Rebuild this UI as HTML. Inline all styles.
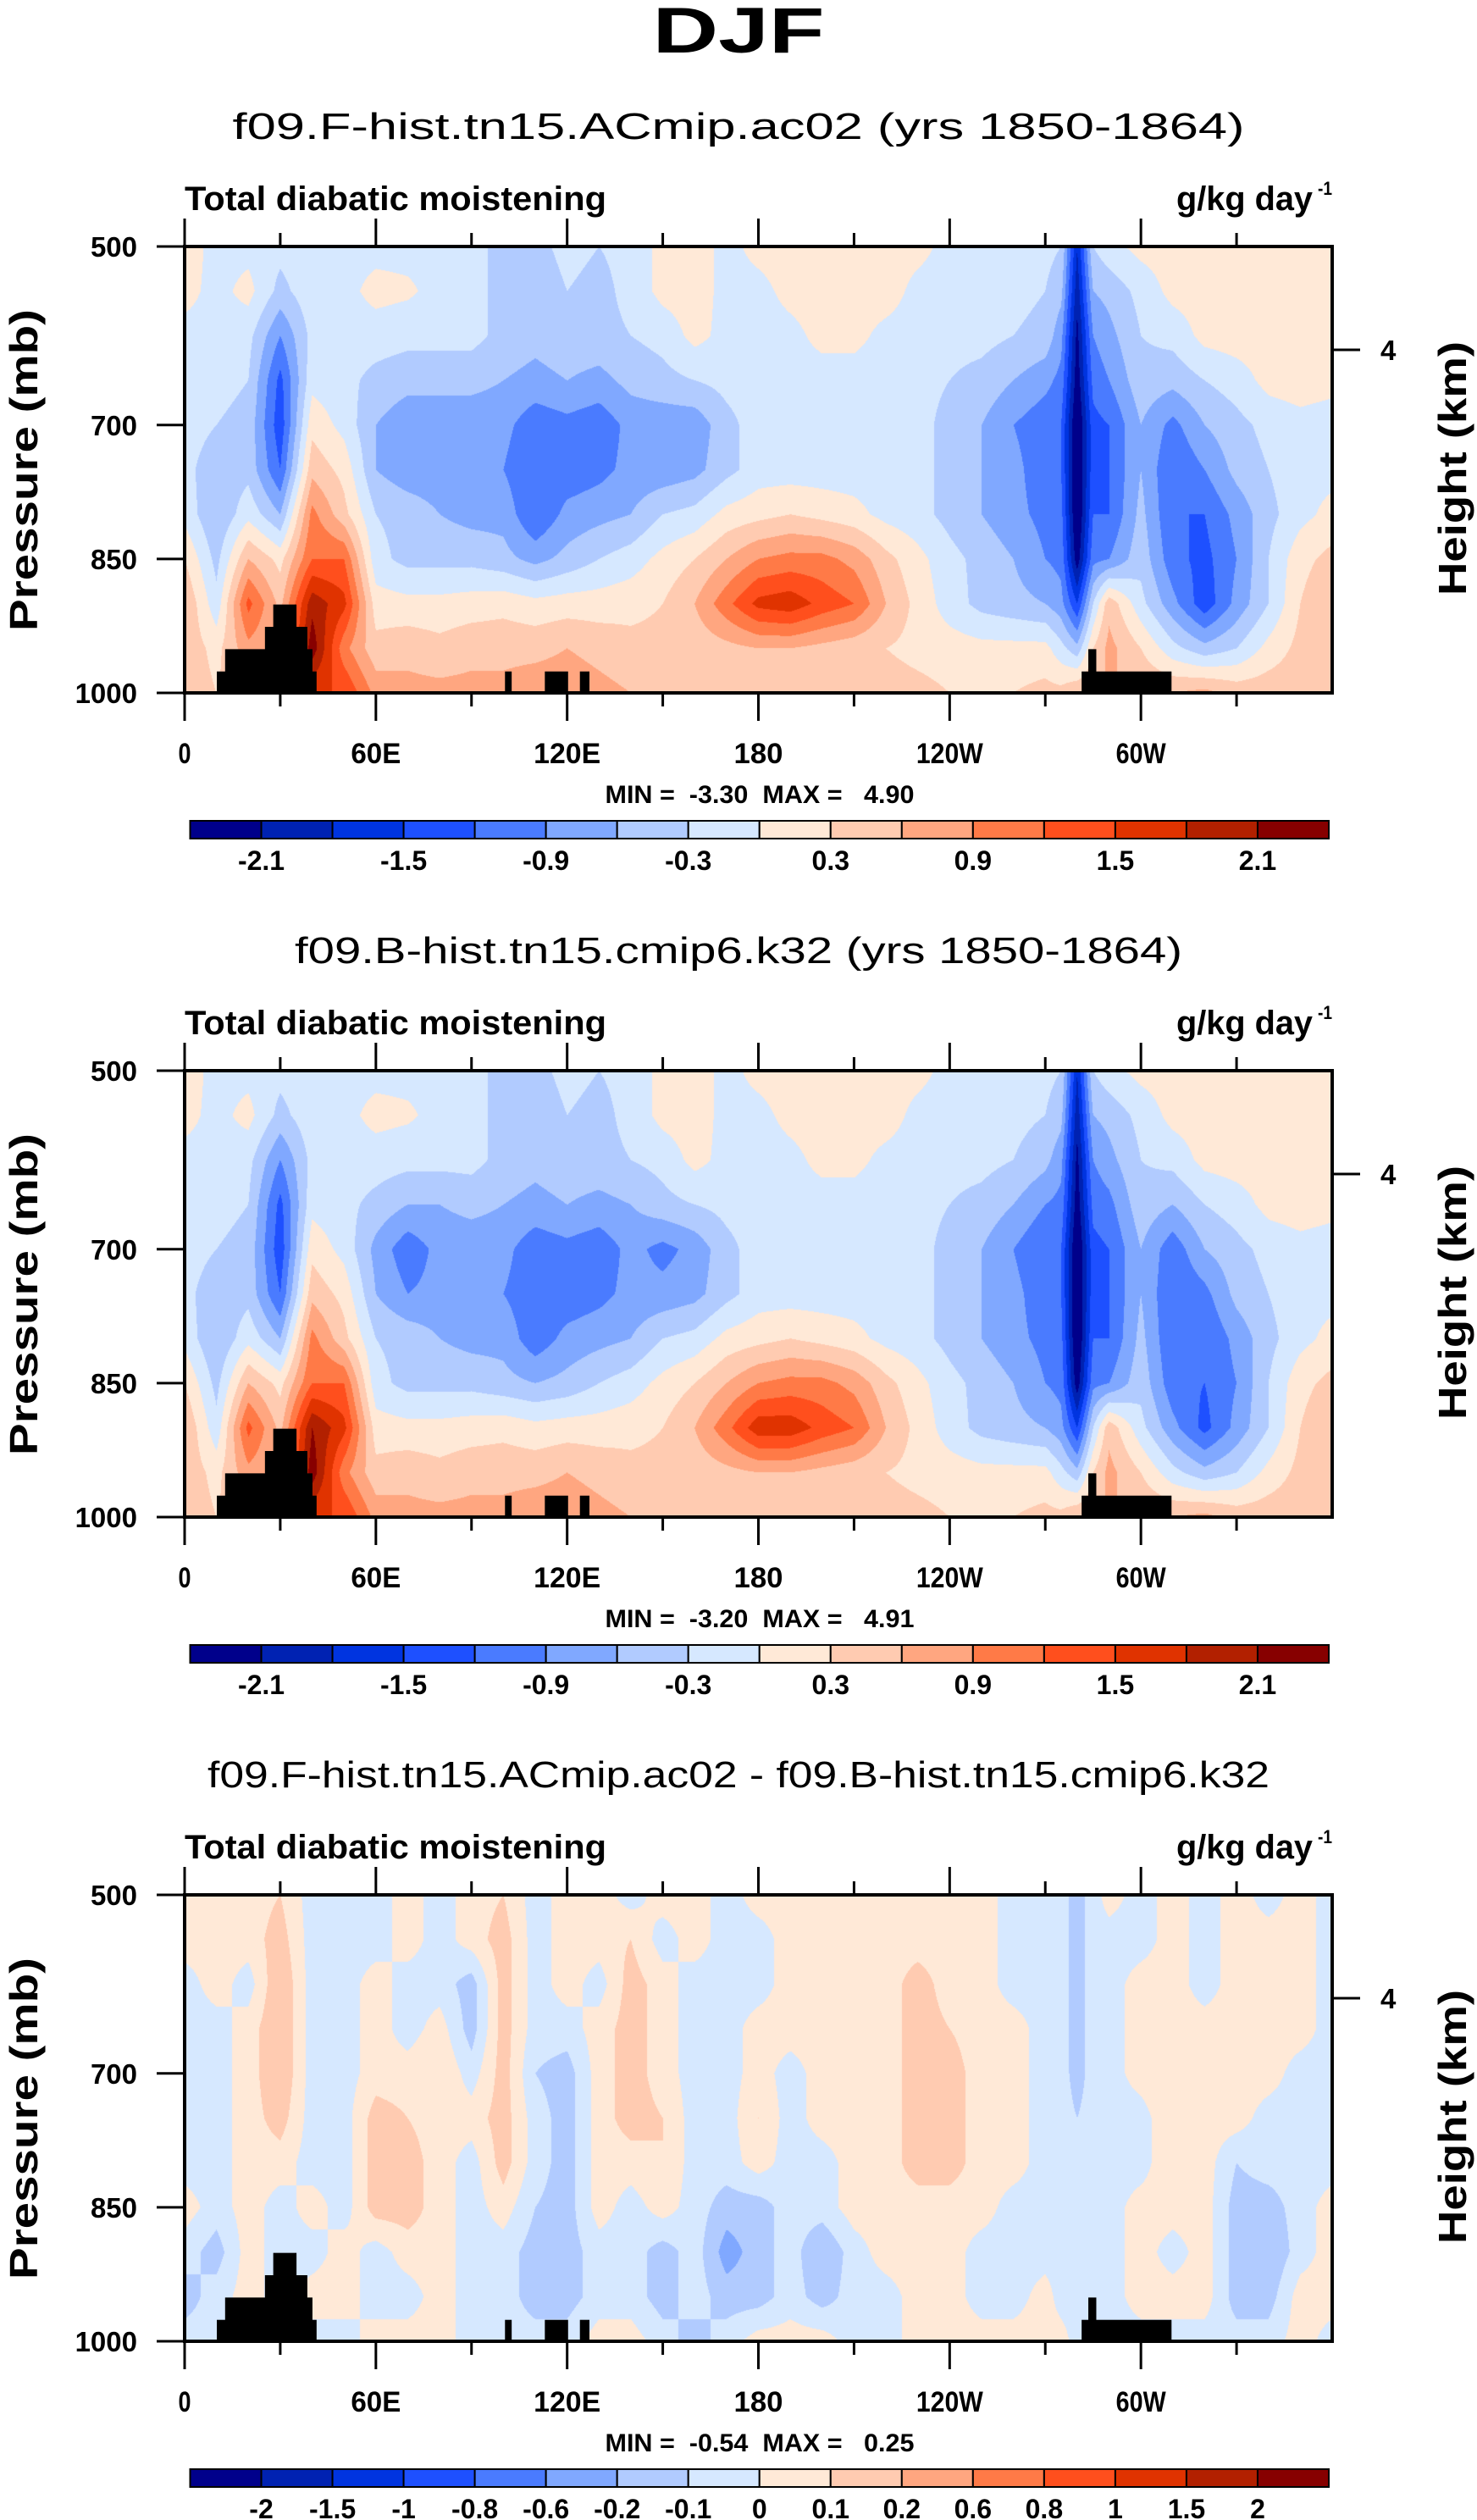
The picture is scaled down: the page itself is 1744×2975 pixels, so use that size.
<!DOCTYPE html>
<html><head><meta charset="utf-8"><title>DJF Total diabatic moistening</title>
<style>
html,body{margin:0;padding:0;background:#fff;}
#wrap{position:relative;width:1744px;height:2975px;overflow:hidden;background:#fff;}
canvas{position:absolute;}
#svg{position:absolute;left:0;top:0;}
text{font-family:"Liberation Sans",sans-serif;fill:#000;}
</style></head>
<body>
<div id="wrap">
<canvas id="f0" width="1355" height="527" style="left:218px;top:291px"></canvas>
<canvas id="f1" width="1355" height="527" style="left:218px;top:1264px"></canvas>
<canvas id="f2" width="1355" height="527" style="left:218px;top:2237px"></canvas>
<svg id="svg" width="1744" height="2975" xmlns="http://www.w3.org/2000/svg">
<text x="872" y="62" text-anchor="middle" font-size="76" font-weight="bold" textLength="203" lengthAdjust="spacingAndGlyphs">DJF</text>
</svg>
</div>
<script>
const baseLons = [0,10,20,30,40,50,60,70,80,90,100,110,120,130,140,150,160,170,180,190,200,210,220,230,240,250,260,270,280,290,300,310,320,330,340,350,360];
const extraLons = [275,285];
const pressures = [500,550,600,650,700,750,800,850,900,950,1000];
const panel1Values = [
[.15,-.1,-.1,-.2,-.1,-.1,-.1,-.1,-.1,-.2,-.4,-.4,-.2,-.3,-.2,.1,.15,-.1,.1,.15,.15,.15,.15,.1,-.1,-.15,-.15,-.2,-1.8,-.1,.1,.15,.15,.15,.15,.15,.15],
[.1,-.1,.1,-.4,-.1,-.1,.1,.05,-.1,-.2,-.4,-.5,-.3,-.4,-.2,.1,.15,-.1,-.1,.1,.15,.15,.15,-.1,-.15,-.15,-.2,-.3,-2.0,-.5,-.2,.1,.15,.15,.15,.15,.15],
[-.1,-.1,-.2,-.9,-.2,-.15,-.15,-.2,-.2,-.2,-.4,-.5,-.4,-.4,-.3,-.2,.1,-.1,-.15,-.1,.1,.1,-.1,-.15,-.2,-.2,-.3,-.4,-2.2,-.7,-.3,-.2,.1,.15,.15,.15,.1],
[-.15,-.2,-.3,-1.3,-.1,-.2,-.4,-.5,-.5,-.5,-.6,-.7,-.6,-.7,-.5,-.4,-.3,-.2,-.15,-.15,-.15,-.15,-.2,-.2,-.3,-.4,-.6,-.8,-2.3,-.9,-.4,-.5,-.3,-.15,.1,.15,.1],
[-.15,-.3,-.4,-1.4,.2,-.1,-.6,-.8,-.8,-.8,-.8,-1.1,-1.0,-1.1,-.8,-.8,-.8,-.4,-.15,-.15,-.15,-.15,-.15,-.2,-.4,-.6,-.9,-1.1,-2.5,-1.2,-.6,-1.0,-.6,-.4,-.2,-.1,-.15],
[-.2,-.5,-.4,-1.2,.5,.2,-.6,-.8,-.8,-.8,-.9,-1.2,-1.1,-1.0,-.8,-.8,-.7,-.4,-.15,-.15,-.15,-.15,-.15,-.2,-.4,-.6,-.8,-1.1,-2.5,-1.2,-.6,-1.2,-.9,-.5,-.3,-.1,-.1],
[-.1,-.6,-.1,-.6,1.0,.4,-.3,-.4,-.6,-.7,-.7,-1.2,-.8,-.7,-.6,-.3,-.2,.1,.2,.3,.2,.1,-.1,-.2,-.4,-.6,-.8,-1.0,-2.5,-1.2,-.5,-1.2,-1.2,-.8,-.4,-.1,.1],
[.3,-.4,.6,.2,1.2,1.2,-.2,-.4,-.4,-.4,-.5,-.7,-.5,-.3,-.15,.1,.3,.6,.9,1.0,1.0,.8,.4,.1,-.2,-.4,-.6,-.9,-2.3,-.9,-.4,-1.1,-1.3,-.9,-.3,.2,.4],
[.6,-.2,1.3,.5,2.0,1.6,.15,.1,.1,.15,.2,.1,.15,.15,.2,.3,.6,1.1,1.6,1.7,1.4,1.2,.6,.2,-.15,-.4,-.5,-.6,-1.5,.5,-.2,-.8,-1.4,-.8,-.3,.3,.6],
[.5,.2,.8,.6,2.3,1.0,.4,.5,.4,.5,.5,.5,.6,.5,.4,.4,.4,.5,.6,.6,.5,.4,.3,.2,.15,.1,.1,.1,-.5,.7,.3,-.2,-.5,-.3,.1,.4,.5],
[.5,.3,.5,.5,1.5,1.5,.8,.7,.7,.7,.7,.8,.8,.7,.6,.5,.45,.45,.45,.45,.45,.45,.45,.4,.3,.3,.3,.4,.6,.6,.6,.6,.7,.5,.5,.5,.5]
];
const panel1Extra = [[-.3,-.3],[-.5,-.6],[-.8,-.9],[-1.0,-1.1],[-1.2,-1.3],[-1.2,-1.3],[-1.1,-1.2],[-1.0,-1.0],[-.8,-.3],[-.2,.3],[.4,.6]];
const panel2Values = [
[.15,-.1,-.1,-.2,-.1,-.1,-.1,-.1,-.1,-.2,-.4,-.4,-.2,-.3,-.2,.1,.15,-.1,.1,.15,.15,.15,.15,.1,-.1,-.15,-.15,-.2,-1.8,-.1,.1,.15,.15,.15,.15,.2,.15],
[.1,-.1,.1,-.4,-.1,-.1,.1,.05,-.1,-.2,-.4,-.5,-.3,-.4,-.2,.1,.15,-.1,-.1,.1,.15,.15,.15,-.1,-.15,-.15,-.2,-.3,-2.0,-.5,-.2,.1,.15,.15,.15,.15,.15],
[-.1,-.1,-.2,-.9,-.2,-.15,-.15,-.2,-.2,-.2,-.4,-.5,-.4,-.4,-.3,-.2,.1,-.1,-.15,-.1,.1,.1,-.1,-.15,-.2,-.2,-.3,-.5,-2.2,-.7,-.3,-.2,.1,.15,.15,.15,.1],
[-.15,-.2,-.3,-1.3,-.1,-.2,-.4,-.6,-.6,-.5,-.6,-.7,-.6,-.7,-.6,-.4,-.3,-.2,-.15,-.15,-.15,-.15,-.2,-.2,-.3,-.4,-.6,-.9,-2.3,-1.0,-.4,-.6,-.3,-.15,.1,.15,.1],
[-.15,-.3,-.4,-1.4,.2,-.1,-.7,-1.1,-.8,-.8,-.8,-1.1,-1.0,-1.1,-.8,-1.0,-.8,-.4,-.15,-.15,-.15,-.15,-.15,-.2,-.4,-.6,-.9,-1.2,-2.5,-1.2,-.6,-1.1,-.6,-.4,-.2,-.1,-.15],
[-.2,-.5,-.4,-1.2,.5,.2,-.6,-.9,-.8,-.8,-.9,-1.1,-1.1,-1.0,-.8,-.8,-.7,-.4,-.15,-.15,-.15,-.15,-.15,-.2,-.4,-.6,-.8,-1.1,-2.5,-1.2,-.6,-1.2,-1.0,-.5,-.3,-.1,-.1],
[-.1,-.6,-.1,-.6,1.0,.4,-.3,-.4,-.6,-.7,-.7,-1.1,-.8,-.7,-.6,-.3,-.2,.1,.2,.3,.2,.1,-.1,-.2,-.4,-.6,-.8,-1.0,-2.5,-1.2,-.5,-1.2,-1.2,-.8,-.4,-.1,.1],
[.3,-.4,.6,.2,1.2,1.2,-.2,-.4,-.4,-.4,-.5,-.6,-.5,-.3,-.15,.1,.3,.6,.9,1.0,1.0,.8,.4,.1,-.2,-.4,-.6,-.9,-2.3,-.9,-.4,-1.1,-1.2,-.9,-.3,.2,.4],
[.6,-.2,1.3,.5,2.1,1.6,.15,.1,.1,.15,.2,.1,.15,.15,.2,.3,.6,1.1,1.7,1.7,1.4,1.2,.6,.2,-.15,-.4,-.5,-.6,-1.5,.5,-.2,-.8,-1.3,-.8,-.3,.3,.6],
[.5,.2,.8,.6,2.3,1.0,.4,.5,.4,.5,.5,.5,.6,.5,.4,.4,.4,.5,.6,.6,.5,.4,.3,.2,.15,.1,.1,.1,-.5,.7,.3,-.2,-.5,-.3,.1,.4,.5],
[.5,.3,.5,.5,1.5,1.5,.8,.7,.7,.7,.7,.8,.8,.7,.6,.5,.45,.45,.45,.45,.45,.45,.45,.4,.3,.3,.3,.4,.6,.6,.6,.6,.7,.5,.5,.5,.5]
];
const panel2Extra = [[-.3,-.3],[-.5,-.6],[-.8,-.9],[-1.0,-1.1],[-1.2,-1.3],[-1.2,-1.3],[-1.1,-1.2],[-1.0,-1.0],[-.8,-.3],[-.2,.3],[.4,.6]];
const panel3Values = [
[.05,.05,.05,.1,-.05,-.05,-.05,.05,-.05,.05,.1,-.05,.05,.05,-.05,.05,.05,-.05,.05,.05,.05,.05,.05,.05,.05,.05,-.05,-.05,-.15,.05,-.05,.05,-.05,.05,-.05,.05,-.05],
[.05,.05,.05,.15,-.05,-.05,-.05,.05,-.05,.05,.15,-.05,.05,.05,.1,-.05,.05,-.05,-.05,.05,.05,.05,.05,.05,.05,.05,-.05,-.05,-.15,-.05,-.05,.05,-.05,.05,.05,.05,-.05],
[-.05,.05,-.05,.2,-.05,-.05,.05,-.05,-.05,-.15,.15,-.05,.05,-.05,.15,.05,-.05,-.05,-.05,.05,.05,.05,.05,.15,.05,.05,-.05,-.05,-.15,-.05,.05,.05,-.05,.05,.05,.05,-.05],
[-.05,-.05,.05,.2,-.05,-.05,.05,-.05,.05,-.15,.15,-.05,-.05,.05,.15,.05,-.05,-.05,.05,.05,.05,.05,.05,.15,.1,.05,.05,-.05,-.15,-.05,.05,.05,.05,.05,.05,.05,-.05],
[-.05,-.05,.05,.2,-.05,-.05,.05,.05,.1,-.05,.15,-.1,-.15,.05,.15,.05,-.05,-.05,.05,-.05,.05,.05,.05,.15,.15,.05,.05,-.05,-.15,-.05,.05,.1,.05,.05,.05,-.05,-.05],
[-.05,-.05,.05,.15,-.05,-.05,.15,.1,.05,.05,.15,-.05,-.15,.05,.15,.1,-.05,-.05,.1,-.05,.05,.05,.05,.15,.15,.05,.05,-.05,-.1,-.05,-.05,.1,.05,.05,-.05,-.05,-.05],
[-.05,-.05,.05,.05,-.05,-.05,.15,.15,.05,-.05,.15,-.05,-.15,.05,.05,.1,-.05,-.05,.05,-.05,-.05,.05,.05,.15,.15,.05,.05,-.05,-.05,-.05,-.05,.1,.05,-.1,-.05,-.05,-.05],
[.05,-.05,.05,-.05,.05,-.05,.15,.15,.05,-.05,.05,-.1,-.15,.05,-.05,.05,-.05,-.15,-.15,-.05,-.05,.05,.05,.05,.05,.05,-.05,-.05,-.05,-.05,.05,.05,.05,-.15,-.15,-.05,.05],
[-.05,-.15,.05,-.05,-.05,.05,-.05,.05,.05,-.05,-.05,-.15,-.15,-.05,-.05,-.15,-.05,-.25,-.15,-.05,-.2,-.05,.05,.05,.05,-.05,-.05,-.05,-.05,-.05,.05,-.05,.05,-.15,-.2,-.05,.05],
[-.15,-.05,.05,-.05,.05,.05,-.05,-.05,.05,-.05,-.05,-.15,-.15,-.05,-.05,-.15,-.05,-.15,-.15,-.05,-.15,-.05,-.05,.05,.05,-.05,-.05,.05,-.05,-.05,.05,.05,.05,-.15,-.15,.05,.05],
[-.05,-.05,-.05,-.05,-.05,-.05,.05,.05,.05,-.05,-.05,-.05,-.05,.05,.05,-.05,-.15,-.05,.05,.05,.05,-.05,-.05,.05,.05,.05,.05,.05,-.05,-.05,-.05,-.05,-.05,-.05,-.05,.05,-.05]
];
const panel3Extra = [[-.05,-.05],[-.05,-.05],[-.05,-.05],[-.05,-.05],[-.05,-.05],[-.05,-.05],[-.05,-.05],[-.05,-.05],[-.05,-.05],[-.05,-.05],[.05,-.05]];
const levels1 = [-2.1,-1.8,-1.5,-1.2,-0.9,-0.6,-0.3,0,0.3,0.6,0.9,1.2,1.5,1.8,2.1];
const levels3 = [-2,-1.5,-1,-0.8,-0.6,-0.2,-0.1,0,0.1,0.2,0.6,0.8,1,1.5,2];
const cbLabels1 = ['-2.1','-1.5','-0.9','-0.3','0.3','0.9','1.5','2.1'];
const cbLabels3 = ['-2','-1.5','-1','-0.8','-0.6','-0.2','-0.1','0','0.1','0.2','0.6','0.8','1','1.5','2'];
const palette = ['#00008b','#0022b2','#0034e0','#1e50ff','#4a7bff','#80a8ff','#b1cbff','#d6e8ff','#ffe9d7','#ffcbb1','#ffa680','#ff7a47','#ff4f1d','#e03300','#b22000','#870000'];
const topoLonStart = [10.1,12.7,25.2,27.8,100.5,113,124,281.4,283.5];
const topoLonEnd = [41.4,40.1,38.5,35.1,102.6,120.3,127,309.6,286];
const topoTop = [976,951,926,901,976,976,976,976,951];
const xTickLons = [0,60,120,180,240,300];
const xTickLabels = ['0','60E','120E','180','120W','60W'];
const xMinorLons = [30,90,150,210,270,330];
const yTickValues = [500,700,850,1000];
const yTickLabels = ['500','700','850','1000'];
const subtitles = ['f09.F-hist.tn15.ACmip.ac02 (yrs 1850-1864)','f09.B-hist.tn15.cmip6.k32 (yrs 1850-1864)','f09.F-hist.tn15.ACmip.ac02 - f09.B-hist.tn15.cmip6.k32'];
const minMaxText = ['MIN =  -3.30  MAX =   4.90','MIN =  -3.20  MAX =   4.91','MIN =  -0.54  MAX =   0.25'];

// merge base grid with extra columns (sorted by longitude)
const lonOrder = baseLons.map((l,i)=>({l:l,b:i,e:-1})).concat(extraLons.map((l,i)=>({l:l,b:-1,e:i}))).sort((a,b)=>a.l-b.l);
const lons = lonOrder.map(o=>o.l);
function mergeGrid(vals,extra){return vals.map((row,j)=>lonOrder.map(o=>o.b>=0?row[o.b]:extra[j][o.e]));}

const PL=218, PR=1573, PT=291, PB=818, PW=PR-PL, PH=PB-PT, OFF=973;
const NS='http://www.w3.org/2000/svg';
const svg=document.getElementById('svg');
function xS(lon){return PL+lon/360*PW;}
function yS(p,off){return PT+off+(p-500)/500*PH;}
function mk(tag,attrs,parent){const e=document.createElementNS(NS,tag);for(const k in attrs)e.setAttribute(k,attrs[k]);(parent||svg).appendChild(e);return e;}
function txt(s,attrs,parent){const e=mk('text',attrs,parent);e.textContent=s;return e;}
function hex(c){return [parseInt(c.slice(1,3),16),parseInt(c.slice(3,5),16),parseInt(c.slice(5,7),16)];}
const palRGB=palette.map(hex);

function sample(vals,lon,p){
  let i=0;while(i<lons.length-2&&lon>lons[i+1])i++;
  let j=0;while(j<pressures.length-2&&p>pressures[j+1])j++;
  const tx=(lon-lons[i])/(lons[i+1]-lons[i]);
  const ty=(p-pressures[j])/(pressures[j+1]-pressures[j]);
  const a=vals[j][i],b=vals[j][i+1],c=vals[j+1][i],d=vals[j+1][i+1];
  return (a*(1-tx)+b*tx)*(1-ty)+(c*(1-tx)+d*tx)*ty;
}
function drawField(id,vals,levels){
  const cv=document.getElementById(id),ctx=cv.getContext('2d');
  const img=ctx.createImageData(PW,PH);
  for(let y=0;y<PH;y++){
    const p=500+(y+0.5)/PH*500;
    for(let x=0;x<PW;x++){
      const lon=(x+0.5)/PW*360;
      const v=sample(vals,lon,p);
      let k=0;while(k<levels.length&&v>=levels[k])k++;
      const c=palRGB[k],o=(y*PW+x)*4;
      img.data[o]=c[0];img.data[o+1]=c[1];img.data[o+2]=c[2];img.data[o+3]=255;
    }
  }
  ctx.putImageData(img,0,0);
}

function panel(n,vals,levels,cbLabels,labelEvery,subLen){
  const off=n*OFF;
  drawField('f'+n,vals,levels);
  const g=mk('g',{});
  
  
  const st=txt(subtitles[n],{x:872,y:164+off,'text-anchor':'middle','font-size':44,textLength:subLen,lengthAdjust:'spacingAndGlyphs'},g);
  
  
  const lt=txt('Total diabatic moistening',{x:218,y:248+off,'font-size':40,'font-weight':'bold',textLength:498,lengthAdjust:'spacingAndGlyphs'},g);
  
  
  const ut=txt('g/kg day',{x:1389,y:248+off,'font-size':40,'font-weight':'bold',textLength:161,lengthAdjust:'spacingAndGlyphs'},g);
  
  
  const us=txt('-1',{x:1556,y:230+off,'font-size':22,'font-weight':'bold',textLength:17,lengthAdjust:'spacingAndGlyphs'},g);
  
  
  for(let i=0;i<topoTop.length;i++){
    const r=mk('rect',{x:xS(topoLonStart[i]),y:yS(topoTop[i],off),width:xS(topoLonEnd[i])-xS(topoLonStart[i]),height:yS(1000,off)-yS(topoTop[i],off),fill:'#000'},g);
    
    
  }
  const fr=mk('rect',{x:PL,y:PT+off,width:PW,height:PH,fill:'none',stroke:'#000','stroke-width':4},g);
  
  
  for(let i=0;i<xTickLons.length;i++){
    const x=xS(xTickLons[i]);
    const t1=mk('line',{x1:x,x2:x,y1:PT+off-33,y2:PT+off,stroke:'#000','stroke-width':3},g);
    
    
    const t2=mk('line',{x1:x,x2:x,y1:PB+off,y2:PB+off+33,stroke:'#000','stroke-width':3},g);
    
    
    const lw=[15,59,79,58,79,59][i];
    const tl=txt(xTickLabels[i],{x:x,y:901+off,'text-anchor':'middle','font-size':34,'font-weight':'bold',textLength:lw,lengthAdjust:'spacingAndGlyphs'},g);
    
    
  }
  for(let i=0;i<xMinorLons.length;i++){
    const x=xS(xMinorLons[i]);
    const t1=mk('line',{x1:x,x2:x,y1:PT+off-16,y2:PT+off,stroke:'#000','stroke-width':3},g);
    
    
    const t2=mk('line',{x1:x,x2:x,y1:PB+off,y2:PB+off+16,stroke:'#000','stroke-width':3},g);
    
    
  }
  for(let i=0;i<yTickValues.length;i++){
    const y=yS(yTickValues[i],off);
    const t=mk('line',{x1:185,x2:PL,y1:y,y2:y,stroke:'#000','stroke-width':3},g);
    
    
    const yl=txt(yTickLabels[i],{x:162,y:y+12,'text-anchor':'end','font-size':33,'font-weight':'bold'},g);
    
    
  }
  const yt=txt('Pressure (mb)',{x:0,y:0,'font-size':46,'font-weight':'bold','text-anchor':'middle',textLength:380,lengthAdjust:'spacingAndGlyphs',transform:'translate(44,'+(555+off)+') rotate(-90)'},g);
  
  
  const rt=mk('line',{x1:PR,x2:1606,y1:413+off,y2:413+off,stroke:'#000','stroke-width':3},g);
  
  
  const rl=txt('4',{x:1630,y:425+off,'font-size':33,'font-weight':'bold'},g);
  
  
  const ht=txt('Height (km)',{x:0,y:0,'font-size':46,'font-weight':'bold','text-anchor':'middle',textLength:300,lengthAdjust:'spacingAndGlyphs',transform:'translate(1731,'+(553+off)+') rotate(-90)'},g);
  
  
  const mm=txt(minMaxText[n],{x:897,y:948+off,'text-anchor':'middle','font-size':30,'font-weight':'bold',textLength:365,lengthAdjust:'spacingAndGlyphs'},g);
  
  
  mm.setAttribute('xml:space','preserve');
  mm.style.whiteSpace='pre';
  const cbx=224.5,cbw=1344.5,cby=969+off,cbh=21,bw=cbw/palette.length;
  for(let i=0;i<palette.length;i++){
    const b=mk('rect',{x:cbx+i*bw,y:cby,width:bw,height:cbh,fill:palette[i],stroke:'#000','stroke-width':2},g);
    
    
  }
  for(let i=0;i<cbLabels.length;i++){
    const k=1+i*labelEvery;
    const cl=txt(cbLabels[i],{x:cbx+k*bw,y:1027+off,'text-anchor':'middle','font-size':32,'font-weight':'bold'},g);
    
    
  }
}
panel(0,mergeGrid(panel1Values,panel1Extra),levels1,cbLabels1,2,1195);
panel(1,mergeGrid(panel2Values,panel2Extra),levels1,cbLabels1,2,1048);
panel(2,mergeGrid(panel3Values,panel3Extra),levels3,cbLabels3,1,1254);
</script>
</body></html>
